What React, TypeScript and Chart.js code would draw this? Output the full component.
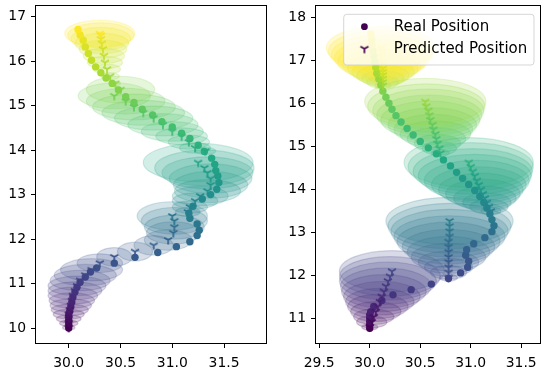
import React, { useEffect, useRef } from "react";
import { Chart, registerables } from "chart.js";
Chart.register(...registerables);

// ---------------- DATA ----------------
// Left panel
const leftRealX = [30.00,30.00,30.00,30.00,30.01,30.02,30.03,30.04,30.06,30.08,30.11,30.16,30.21,30.27,30.44,30.64,30.86,31.04,31.17,31.24,31.26,31.24,31.17,31.16,31.20,31.29,31.37,31.43,31.45,31.44,31.42,31.41,31.38,31.31,31.25,31.17,31.09,31.00,30.90,30.81,30.71,30.63,30.55,30.48,30.42,30.36,30.31,30.26,30.22,30.19,30.16,30.14,30.11,30.09];
const leftRealY = [10.00,10.10,10.19,10.29,10.38,10.48,10.59,10.70,10.81,10.92,11.03,11.15,11.26,11.35,11.46,11.59,11.70,11.83,11.94,12.08,12.20,12.34,12.47,12.58,12.74,12.90,13.00,13.12,13.27,13.42,13.54,13.68,13.82,13.97,14.11,14.26,14.38,14.52,14.64,14.79,14.92,15.07,15.20,15.35,15.50,15.62,15.74,15.87,16.02,16.17,16.32,16.47,16.59,16.71];
const leftPredX = [30.00,30.00,30.00,30.00,30.01,30.02,30.03,30.04,30.06,30.08,30.11,30.16,30.22,30.30,30.44,30.64,30.82,30.96,31.01,31.02,31.02,31.00,31.15,31.17,31.22,31.27,31.34,31.37,31.37,31.34,31.31,31.25,31.32,31.22,31.16,31.09,31.00,30.91,30.82,30.72,30.63,30.55,30.44,30.50,30.45,30.40,30.37,30.35,30.34,30.33,30.32,30.31,30.31,30.30];
const leftPredY = [10.01,10.11,10.21,10.31,10.41,10.51,10.62,10.73,10.84,10.95,11.07,11.19,11.31,11.46,11.60,11.72,11.86,11.98,12.14,12.27,12.41,12.52,12.61,12.72,12.86,12.97,13.08,13.22,13.36,13.49,13.60,13.72,13.98,14.05,14.18,14.31,14.42,14.57,14.72,14.84,14.97,15.10,15.22,15.36,15.50,15.66,15.82,15.97,16.12,16.27,16.40,16.50,16.58,16.62];
const leftEllRX = [0.06,0.09,0.12,0.15,0.18,0.20,0.22,0.24,0.26,0.28,0.29,0.30,0.30,0.22,0.17,0.17,0.19,0.23,0.26,0.29,0.32,0.34,0.12,0.17,0.22,0.27,0.32,0.36,0.40,0.44,0.48,0.53,0.10,0.15,0.20,0.25,0.30,0.34,0.38,0.40,0.40,0.38,0.35,0.33,0.05,0.09,0.13,0.17,0.20,0.23,0.26,0.29,0.32,0.34];
const leftEllRY = [0.05,0.07,0.09,0.11,0.13,0.15,0.17,0.19,0.20,0.22,0.23,0.24,0.25,0.21,0.21,0.21,0.22,0.23,0.25,0.27,0.30,0.32,0.10,0.14,0.18,0.22,0.26,0.30,0.33,0.36,0.40,0.43,0.08,0.12,0.16,0.19,0.22,0.25,0.27,0.28,0.29,0.29,0.29,0.30,0.05,0.08,0.11,0.14,0.17,0.20,0.23,0.26,0.28,0.30];
const leftXTicks = [30.0, 30.5, 31.0, 31.5];
const leftYTicks = [10, 11, 12, 13, 14, 15, 16, 17];

// Right panel
const rightRealX = [30.00,30.00,30.00,30.00,30.00,30.01,30.04,30.12,30.23,30.41,30.61,30.78,30.90,30.97,30.98,30.95,30.96,31.03,31.14,31.21,31.23,31.21,31.19,31.16,31.13,31.09,31.04,30.98,30.92,30.86,30.80,30.73,30.66,30.58,30.50,30.43,30.37,30.31,30.26,30.22,30.19,30.16,30.13,30.11,30.09,30.07,30.06,30.05,30.04,30.03,30.02,30.02,30.01];
const rightRealY = [10.77,10.84,10.92,11.00,11.08,11.16,11.28,11.42,11.55,11.67,11.80,11.93,12.06,12.19,12.33,12.47,12.60,12.74,12.88,13.02,13.16,13.30,13.43,13.57,13.70,13.84,13.98,14.12,14.26,14.40,14.55,14.69,14.83,14.97,15.12,15.27,15.42,15.57,15.72,15.87,16.01,16.15,16.29,16.43,16.57,16.70,16.84,16.97,17.10,17.23,17.36,17.49,17.62];
const rightGroupStarts = [0, 11, 22, 33, 44];
const rightPredX = [
  30.00,30.02,30.04,30.06,30.08,30.10,30.12,30.14,30.16,30.18,30.20,30.22,
  30.78,30.78,30.78,30.78,30.78,30.78,30.78,30.78,30.79,30.79,30.79,30.79,
  31.20,31.18,31.16,31.14,31.12,31.10,31.08,31.06,31.04,31.02,31.00,30.98,
  30.70,30.69,30.67,30.66,30.65,30.63,30.62,30.60,30.59,30.58,30.56,30.55,
  30.13,30.13,30.13,30.13,30.13,30.13,30.12,30.12,30.12,30.12,30.11,30.11];
const rightPredY = [
  10.80,10.92,11.04,11.16,11.28,11.39,11.51,11.63,11.75,11.87,11.98,12.10,
  11.95,12.07,12.19,12.31,12.43,12.55,12.67,12.79,12.91,13.03,13.15,13.27,
  13.50,13.60,13.70,13.80,13.90,14.00,14.11,14.21,14.32,14.42,14.53,14.63,
  14.85,14.96,15.07,15.18,15.29,15.40,15.51,15.62,15.73,15.84,15.94,16.05,
  16.42,16.50,16.58,16.66,16.74,16.82,16.90,16.98,17.06,17.14,17.22,17.30];
const rightEllRX = [
  0.08,0.15,0.20,0.25,0.30,0.34,0.38,0.42,0.45,0.48,0.50,0.52,
  0.09,0.18,0.24,0.30,0.37,0.41,0.46,0.51,0.55,0.58,0.61,0.63,
  0.10,0.19,0.24,0.31,0.37,0.42,0.47,0.52,0.56,0.59,0.62,0.64,
  0.09,0.17,0.23,0.29,0.35,0.39,0.44,0.49,0.52,0.55,0.58,0.60,
  0.08,0.16,0.21,0.26,0.31,0.35,0.39,0.44,0.47,0.50,0.52,0.54];
const rightEllRY = [
  0.07,0.14,0.18,0.23,0.28,0.31,0.35,0.39,0.42,0.44,0.46,0.48,
  0.08,0.16,0.21,0.26,0.32,0.36,0.40,0.45,0.48,0.51,0.53,0.55,
  0.09,0.17,0.22,0.28,0.34,0.38,0.42,0.47,0.50,0.53,0.56,0.58,
  0.08,0.16,0.21,0.26,0.31,0.35,0.39,0.44,0.47,0.50,0.52,0.54,
  0.07,0.15,0.19,0.24,0.29,0.33,0.37,0.41,0.44,0.46,0.48,0.50];
const rightXTicks = [29.5, 30.0, 30.5, 31.0, 31.5];
const rightYTicks = [11, 12, 13, 14, 15, 16, 17, 18];
const legendLabels = ["Real Position", "Predicted Position"];

// ---------------- STYLE HELPERS ----------------
const FONT = "'DejaVu Sans', 'Liberation Sans', sans-serif";
const VIRIDIS = ["#440154","#482475","#414487","#355f8d","#2a788e","#21918c","#22a884","#44bf70","#7ad151","#bddf26","#fde725"];

function hexRgb(h: string): number[] {
  return [parseInt(h.slice(1, 3), 16), parseInt(h.slice(3, 5), 16), parseInt(h.slice(5, 7), 16)];
}
function viridis(t: number): number[] {
  const tt = Math.max(0, Math.min(1, t));
  const s = tt * 10;
  const i = Math.min(9, Math.floor(s));
  const f = s - i;
  const a = hexRgb(VIRIDIS[i]);
  const b = hexRgb(VIRIDIS[i + 1]);
  return [0, 1, 2].map((k) => Math.round(a[k] + (b[k] - a[k]) * f));
}
function rgba(c: number[], a: number) {
  return `rgba(${c[0]},${c[1]},${c[2]},${a})`;
}
function makeTri(color: string) {
  const c = document.createElement("canvas");
  c.width = 14;
  c.height = 14;
  const g = c.getContext("2d")!;
  g.strokeStyle = color;
  g.lineWidth = 1.7;
  const cx = 7, cy = 7, r = 4.6;
  g.beginPath();
  g.moveTo(cx, cy); g.lineTo(cx, cy + r);
  g.moveTo(cx, cy); g.lineTo(cx - r * 0.866, cy - r * 0.5);
  g.moveTo(cx, cy); g.lineTo(cx + r * 0.866, cy - r * 0.5);
  g.stroke();
  return c;
}

type PanelCfg = {
  realX: number[]; realY: number[]; realColors: number[][];
  predX: number[]; predY: number[]; predColors: number[][];
  rx: number[]; ry: number[];
  xMin: number; xMax: number; yMin: number; yMax: number;
  xTicks: number[]; yTicks: number[]; xDec: number;
  padRight: number; legend: boolean;
};

function makePlugin(cfg: PanelCfg) {
  return {
    id: "ellipsesFrame",
    beforeDatasetsDraw(chart: any) {
      const { ctx, chartArea: a } = chart;
      const xs = chart.scales.x, ys = chart.scales.y;
      ctx.save();
      ctx.beginPath();
      ctx.rect(a.left, a.top, a.right - a.left, a.bottom - a.top);
      ctx.clip();
      for (let i = 0; i < cfg.predX.length; i++) {
        const cx = xs.getPixelForValue(cfg.predX[i]);
        const cy = ys.getPixelForValue(cfg.predY[i]);
        const px = Math.abs(xs.getPixelForValue(cfg.predX[i] + cfg.rx[i]) - cx);
        const py = Math.abs(ys.getPixelForValue(cfg.predY[i] + cfg.ry[i]) - cy);
        ctx.beginPath();
        ctx.ellipse(cx, cy, px, py, 0, 0, Math.PI * 2);
        ctx.fillStyle = rgba(cfg.predColors[i], 0.2);
        ctx.fill();
        ctx.strokeStyle = rgba(cfg.predColors[i], 0.2);
        ctx.lineWidth = 1.2;
        ctx.stroke();
      }
      ctx.restore();
    },
    afterDraw(chart: any) {
      const { ctx, chartArea: a } = chart;
      ctx.save();
      if (cfg.legend) {
        ctx.font = `15px ${FONT}`;
        const tw = Math.max(...legendLabels.map((l) => ctx.measureText(l).width));
        const bw = 50 + tw + 6.7;
        const bx = a.right - 6 - bw;
        const by = a.top + 8.3;
        const bh = 50.7;
        const r = 3;
        ctx.beginPath();
        ctx.moveTo(bx + r, by);
        ctx.lineTo(bx + bw - r, by);
        ctx.arcTo(bx + bw, by, bx + bw, by + r, r);
        ctx.lineTo(bx + bw, by + bh - r);
        ctx.arcTo(bx + bw, by + bh, bx + bw - r, by + bh, r);
        ctx.lineTo(bx + r, by + bh);
        ctx.arcTo(bx, by + bh, bx, by + bh - r, r);
        ctx.lineTo(bx, by + r);
        ctx.arcTo(bx, by, bx + r, by, r);
        ctx.closePath();
        ctx.fillStyle = "rgba(255,255,255,0.8)";
        ctx.fill();
        ctx.strokeStyle = "rgba(204,204,204,0.8)";
        ctx.lineWidth = 1;
        ctx.stroke();
        const c0 = rgba(viridis(0), 1);
        ctx.beginPath();
        ctx.arc(bx + 20.7, by + 12.4, 3.4, 0, Math.PI * 2);
        ctx.fillStyle = c0;
        ctx.fill();
        const tri = makeTri(c0);
        ctx.drawImage(tri, bx + 20.7 - 7, by + 34.4 - 7);
        ctx.fillStyle = "#000";
        ctx.textBaseline = "middle";
        ctx.textAlign = "left";
        ctx.fillText(legendLabels[0], bx + 50, by + 12.6);
        ctx.fillText(legendLabels[1], bx + 50, by + 34.6);
      }
      ctx.strokeStyle = "#000";
      ctx.lineWidth = 1;
      ctx.strokeRect(a.left - 0.5, a.top - 0.5, a.right - a.left + 1, a.bottom - a.top + 1);
      ctx.restore();
    },
  };
}

function buildChart(canvas: HTMLCanvasElement, cfg: PanelCfg) {
  const tickFont = { family: FONT, size: 13.9 };
  const predStyles = cfg.predColors.map((c) => makeTri(rgba(c, 1)));
  return new Chart(canvas, {
    type: "scatter",
    data: {
      datasets: [
        {
          label: "pred",
          data: cfg.predX.map((x, i) => ({ x, y: cfg.predY[i] })),
          pointStyle: predStyles as any,
          pointRadius: 5,
          pointHoverRadius: 5,
        },
        {
          label: "real",
          data: cfg.realX.map((x, i) => ({ x, y: cfg.realY[i] })),
          pointStyle: "circle",
          pointRadius: 3.7,
          pointHoverRadius: 3.7,
          pointBorderWidth: 0,
          pointBackgroundColor: cfg.realColors.map((c) => rgba(c, 1)),
          pointBorderColor: cfg.realColors.map((c) => rgba(c, 1)),
        },
      ],
    },
    options: {
      animation: false,
      responsive: false,
      events: [],
      layout: { padding: { left: 0, right: cfg.padRight, top: 4, bottom: 0 } },
      plugins: { legend: { display: false }, tooltip: { enabled: false } },
      scales: {
        x: {
          type: "linear",
          min: cfg.xMin,
          max: cfg.xMax,
          afterBuildTicks: (s: any) => { s.ticks = cfg.xTicks.map((v) => ({ value: v })); },
          afterFit: (s: any) => { s.height = 29; s.paddingLeft = 0; s.paddingRight = 0; s.paddingTop = 0; s.paddingBottom = 0; },
          ticks: {
            callback: (v: any) => Number(v).toFixed(cfg.xDec),
            font: tickFont,
            color: "#000",
            padding: 7,
            maxRotation: 0,
            autoSkip: false,
          },
          grid: { drawOnChartArea: false, drawTicks: true, tickLength: 5, color: "#000", lineWidth: 1 },
          border: { display: false },
        },
        y: {
          type: "linear",
          min: cfg.yMin,
          max: cfg.yMax,
          afterBuildTicks: (s: any) => { s.ticks = cfg.yTicks.map((v) => ({ value: v })); },
          afterFit: (s: any) => { s.width = 36; s.paddingLeft = 0; s.paddingRight = 0; s.paddingTop = 0; s.paddingBottom = 0; },
          ticks: {
            callback: (v: any) => String(Math.round(Number(v))),
            font: tickFont,
            color: "#000",
            padding: 5,
            autoSkip: false,
          },
          grid: { drawOnChartArea: false, drawTicks: true, tickLength: 5, color: "#000", lineWidth: 1 },
          border: { display: false },
        },
      },
    },
    plugins: [makePlugin(cfg)],
  } as any);
}

export default function App() {
  const leftRef = useRef<HTMLCanvasElement>(null);
  const rightRef = useRef<HTMLCanvasElement>(null);

  useEffect(() => {
    const nL = leftRealX.length;
    const leftCfg: PanelCfg = {
      realX: leftRealX, realY: leftRealY,
      realColors: leftRealX.map((_, i) => viridis(i / (nL - 1))),
      predX: leftPredX, predY: leftPredY,
      predColors: leftPredX.map((_, i) => viridis(i / (nL - 1))),
      rx: leftEllRX, ry: leftEllRY,
      xMin: 29.684, xMax: 31.905, yMin: 9.665, yMax: 17.239,
      xTicks: leftXTicks, yTicks: leftYTicks, xDec: 1,
      padRight: 4, legend: false,
    };
    const nR = rightRealX.length;
    const rightCfg: PanelCfg = {
      realX: rightRealX, realY: rightRealY,
      realColors: rightRealX.map((_, i) => viridis(i / (nR - 1))),
      predX: rightPredX, predY: rightPredY,
      predColors: rightPredX.map((_, i) => {
        const step = rightGroupStarts[Math.floor(i / 12)] + (i % 12);
        return viridis(step / (nR - 1));
      }),
      rx: rightEllRX, ry: rightEllRY,
      xMin: 29.468, xMax: 31.686, yMin: 10.429, yMax: 18.271,
      xTicks: rightXTicks, yTicks: rightYTicks, xDec: 1,
      padRight: 0, legend: true,
    };
    const c1 = buildChart(leftRef.current!, leftCfg);
    const c2 = buildChart(rightRef.current!, rightCfg);
    return () => { c1.destroy(); c2.destroy(); };
  }, []);

  return (
    <div style={{ position: "fixed", left: 0, top: 0, width: 545, height: 372, overflow: "hidden", background: "#fff" }}>
      <canvas ref={leftRef} width={272} height={372} style={{ position: "absolute", left: 0, top: 0 }} />
      <canvas ref={rightRef} width={266} height={372} style={{ position: "absolute", left: 280, top: 0 }} />
    </div>
  );
}
